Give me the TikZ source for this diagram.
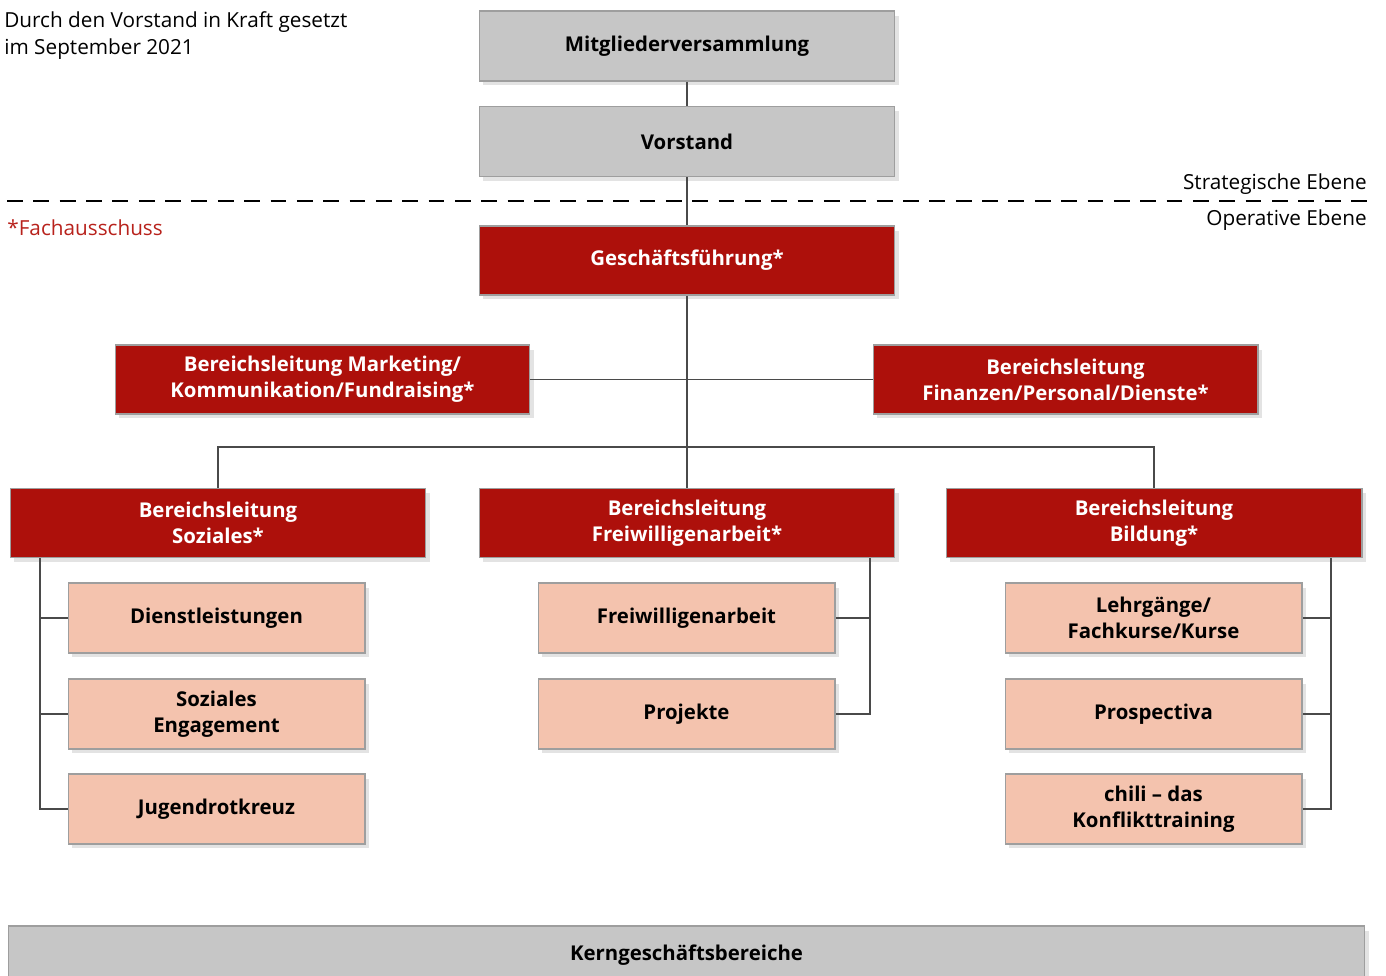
\documentclass[tikz,border=0pt]{standalone}
\usepackage{fontspec}
\setmainfont{Open Sans}
\usetikzlibrary{shadows}
\definecolor{boxgray}{HTML}{C6C6C6}
\definecolor{framegray}{HTML}{9E9E9E}
\definecolor{drkred}{HTML}{AD100B}
\definecolor{salmon}{HTML}{F4C3AE}
\definecolor{linegray}{HTML}{4A4A4A}
\definecolor{notered}{HTML}{B8221C}

\begin{document}
\begin{tikzpicture}[x=0.02cm, y=-0.02cm]
   \tikzstyle{box}=[draw=framegray, line width=0.6pt, inner sep=0pt, align=center,
      font=\bfseries\fontsize{11.6}{14.7}\selectfont,
      drop shadow={shadow xshift=0.08cm, shadow yshift=-0.09cm, opacity=0.22}]
   \tikzstyle{top}=[box, fill=boxgray, minimum width=8.32cm, minimum height=1.4cm]
   \tikzstyle{lead}=[box, fill=drkred, text=white, minimum height=1.38cm]
   \tikzstyle{unit}=[box, fill=salmon, minimum width=5.94cm, minimum height=1.4cm]
   \tikzstyle{link}=[draw=linegray, line width=0.7pt]
   \tikzstyle{note}=[inner sep=0pt, font=\fontsize{11.8}{15.3}\selectfont]

   \useasboundingbox (0,0) rectangle (1386,976);
   \clip (0,0) rectangle (1386,976);

   % notes and level separator
   \node[note, anchor=north west, align=left] (info) at (4,11) {Durch den Vorstand in Kraft gesetzt\\im September 2021};
   \node[note, text=notered, anchor=west] (fa) at (7,228) {*Fachausschuss};
   \node[note, anchor=east] (str) at (1367,184) {Strategische Ebene};
   \node[note, anchor=east] (opr) at (1367,220) {Operative Ebene};
   \coordinate (dl) at (7,201);
   \coordinate (dr) at (1367,201);

   % strategic level
   \node[top] (mv) at (687,46) {Mitgliederversammlung};
   \node[top] (vs) at (687,141.5) {Vorstand};

   % operative level
   \node[lead, minimum width=8.32cm] (gf) at (687,260.5) {Geschäftsführung*};
   \node[lead, minimum width=8.30cm] (mk) at (322.5,379.5) {Bereichsleitung Marketing/\\Kommunikation/Fundraising*};
   \node[lead, minimum width=7.70cm] (fin) at (1065.5,379.5) {Bereichsleitung\\Finanzen/Personal/Dienste*};
   \node[lead, minimum width=8.32cm] (soc) at (218,523) {Bereichsleitung\\Soziales*};
   \node[lead, minimum width=8.32cm] (frw) at (687,523) {Bereichsleitung\\Freiwilligenarbeit*};
   \node[lead, minimum width=8.32cm] (bil) at (1154,523) {Bereichsleitung\\Bildung*};
   \coordinate (bus) at (687,447);

   % units
   \node[unit] (dst) at (216.5,618) {Dienstleistungen};
   \node[unit] (eng) at (216.5,714) {Soziales\\Engagement};
   \node[unit] (jrk) at (216.5,809) {Jugendrotkreuz};
   \node[unit] (fwa) at (686.5,618) {Freiwilligenarbeit};
   \node[unit] (prj) at (686.5,714) {Projekte};
   \node[unit] (lgk) at (1153.5,618) {Lehrgänge/\\Fachkurse/Kurse};
   \node[unit] (psp) at (1153.5,714) {Prospectiva};
   \node[unit] (chi) at (1153.5,809) {chili – das\\Konflikttraining};
   \coordinate (lb) at (40,558);
   \coordinate (mb) at (870,558);
   \coordinate (rb) at (1331,558);

   \node[box, fill=boxgray, minimum width=27.14cm, minimum height=1.16cm] (kern) at (686.5,955) {Kerngeschäftsbereiche};

   % connectors
   \draw[link] (mv) -- (vs);
   \draw[link] (vs) -- (gf);
   \draw[link] (gf) -- (frw);
   \draw[link] (mk) -- (fin);
   \draw[link] (soc.north) |- (bus) -| (bil.north);
   \foreach \n in {dst,eng,jrk} \draw[link] (soc.south -| lb) |- (\n.west);
   \foreach \n in {fwa,prj} \draw[link] (frw.south -| mb) |- (\n.east);
   \foreach \n in {lgk,psp,chi} \draw[link] (bil.south -| rb) |- (\n.east);
   \draw[dashed, dash pattern=on 9pt off 6pt, line width=0.6pt] (dl) -- (dr);
\end{tikzpicture}
\end{document}
